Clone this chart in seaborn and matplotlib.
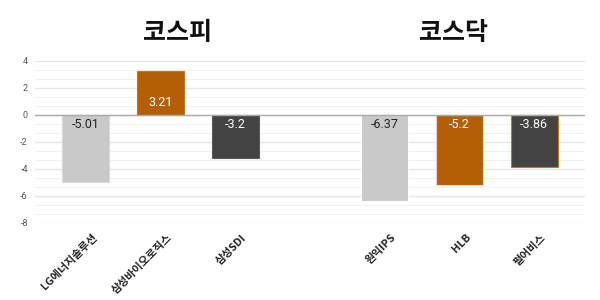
import numpy as np
import pandas as pd
import matplotlib
matplotlib.use("Agg")
import matplotlib.pyplot as plt
import seaborn as sns
from matplotlib.ticker import MultipleLocator
from matplotlib.transforms import ScaledTranslation

categories = ["LG에너지솔루션", "삼성바이오로직스", "삼성SDI", " ", "원익IPS", "HLB", "펄어비스"]
values = [-5.01, 3.21, -3.2, np.nan, -6.37, -5.2, -3.86]
labels = ["-5.01", "3.21", "-3.2", "", "-6.37", "-5.2", "-3.86"]
group_titles = ["코스피", "코스닥"]
yticks = [-8, -6, -4, -2, 0, 2, 4]

colors = ["#c9c9c9", "#b45f06", "#434343", "#ffffff", "#c9c9c9", "#b45f06", "#434343"]
edges = ["#d9d9d9", "#c8741e", "#5a5a5a", "#ffffff", "#d9d9d9", "#c8741e", "#5a5a5a"]
text_colors = ["#222222", "#ffffff", "#ffffff", "#ffffff", "#222222", "#ffffff", "#ffffff"]

sns.set_theme(style="white")
plt.rcParams['font.family'] = ['Noto Sans CJK KR', 'DejaVu Sans']

df = pd.DataFrame({"cat": categories, "val": values})

fig = plt.figure(figsize=(6, 3), dpi=100)
ax = fig.add_axes([0.058, 0.258, 0.917, 0.54])

sns.barplot(data=df, x="cat", y="val", hue="cat", order=categories, hue_order=categories,
            palette=colors, legend=False, width=0.63, ax=ax, saturation=1)
for p, ec in zip(ax.patches, edges):
    p.set_edgecolor(ec)
    p.set_linewidth(0.8)

ax.set_ylim(-8, 4)
ax.set_xlim(-0.68, 6.68)
ax.yaxis.set_major_locator(MultipleLocator(2))
ax.yaxis.set_minor_locator(MultipleLocator(2/3))
ax.grid(axis="y", which="major", color="#e6e6e6", linewidth=1.0)
ax.grid(axis="y", which="minor", color="#f1f1f1", linewidth=0.8)
ax.set_axisbelow(True)
ax.axhline(0, color="#aaaaaa", linewidth=1.0, zorder=3)
for s in ax.spines.values():
    s.set_visible(False)
ax.set_xlabel("")
ax.set_ylabel("")
ax.set_yticks(yticks)
ax.set_yticklabels([str(t) for t in yticks], fontsize=6.5, color="#555555", family=['Roboto', 'DejaVu Sans'])
ax.tick_params(axis="y", which="both", length=0, pad=5)
ax.tick_params(axis="x", length=0, pad=7)
ax.set_xticks(range(len(categories)))
ax.set_xticklabels(categories, rotation=45, ha="right", rotation_mode="anchor",
                   fontsize=7.8, fontweight="bold", color="#222222")
shift = ScaledTranslation(6/100, 0, fig.dpi_scale_trans)
for t in ax.get_xticklabels():
    t.set_transform(t.get_transform() + shift)

for i, (v, lab, tc) in enumerate(zip(values, labels, text_colors)):
    if np.isnan(v):
        continue
    off = 12 if v > 0 else -10
    ax.annotate(lab, (i, 0), xytext=(0, off), textcoords="offset pixels",
                ha="center", va="center", fontsize=9, color=tc,
                family=['Roboto', 'DejaVu Sans'], zorder=5)

fig.text(178/600, 1-33/300, group_titles[0], ha="center", va="center", fontsize=18, fontweight="bold", color="#111111")
fig.text(454/600, 1-33/300, group_titles[1], ha="center", va="center", fontsize=18, fontweight="bold", color="#111111")

fig.savefig("out.png", dpi=100)
